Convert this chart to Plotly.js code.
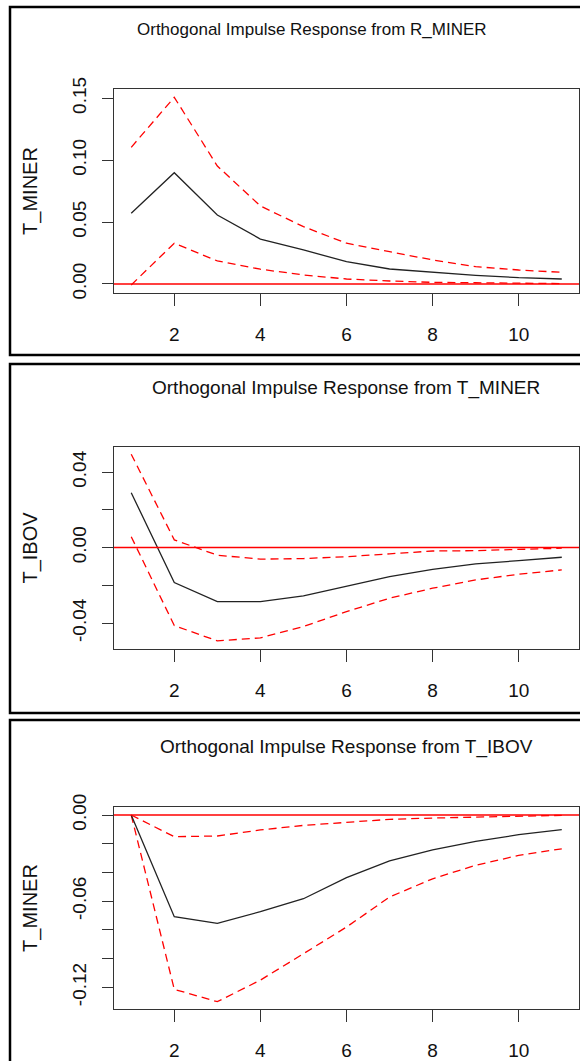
<!DOCTYPE html>
<html>
<head>
<meta charset="utf-8">
<script src="https://cdn.plot.ly/plotly-3.0.1.min.js"></script>
<style>
html,body{margin:0;padding:0;background:#fff;overflow:hidden;}
#chart{width:580px;height:1061px;}
</style>
</head>
<body>
<div id="chart"></div>
<script>
// ---- data ----
const steps = [1,2,3,4,5,6,7,8,9,10,11];

// Panel 1: response of T_MINER to R_MINER
const p1_title = "Orthogonal Impulse Response from R_MINER";
const p1_ylabel = "T_MINER";
const p1_irf   = [0.0571,0.0899,0.0557,0.0363,0.0275,0.0180,0.0121,0.0094,0.0070,0.0051,0.0040];
const p1_upper = [0.1104,0.1508,0.0953,0.0630,0.0463,0.0329,0.0261,0.0194,0.0140,0.0113,0.0094];
const p1_lower = [-0.0008,0.0329,0.0186,0.0119,0.0073,0.0040,0.0024,0.0013,0.0010,0.0005,0.0003];
const p1_tickvals = [0,0.05,0.10,0.15];
const p1_ticktext = ["0.00","0.05","0.10","0.15"];

// Panel 2: response of T_IBOV to T_MINER
const p2_title = "Orthogonal Impulse Response from T_MINER";
const p2_ylabel = "T_IBOV";
const p2_irf   = [0.0291,-0.0185,-0.0286,-0.0286,-0.0256,-0.0206,-0.0154,-0.0115,-0.0086,-0.0069,-0.0051];
const p2_upper = [0.0495,0.0041,-0.0040,-0.0061,-0.0058,-0.0048,-0.0033,-0.0018,-0.0016,-0.0009,-0.0003];
const p2_lower = [0.0058,-0.0413,-0.0494,-0.0478,-0.0418,-0.0339,-0.0268,-0.0215,-0.0171,-0.0141,-0.0118];
const p2_tickvals = [-0.04,-0.02,0,0.02,0.04];
const p2_ticktext = ["-0.04","","0.00","","0.04"];

// Panel 3: response of T_MINER to T_IBOV
const p3_title = "Orthogonal Impulse Response from T_IBOV";
const p3_ylabel = "T_MINER";
const p3_irf   = [0,-0.0708,-0.0754,-0.0673,-0.0583,-0.0436,-0.0320,-0.0242,-0.0183,-0.0137,-0.0102];
const p3_upper = [0,-0.0151,-0.0146,-0.0104,-0.0072,-0.0049,-0.0030,-0.0021,-0.0014,-0.0007,-0.0002];
const p3_lower = [0,-0.1214,-0.1300,-0.1150,-0.0966,-0.0780,-0.0571,-0.0444,-0.0350,-0.0281,-0.0235];
const p3_tickvals = [-0.12,-0.10,-0.08,-0.06,-0.04,-0.02,0];
const p3_ticktext = ["-0.12","","","-0.06","","","0.00"];

const xticks = [2,4,6,8,10];

// ---- layout helpers ----
const W = 580, H = 1061;
const fx = v => v / W;
const fy = v => 1 - v / H;
const FONT = "Liberation Sans, Arial, sans-serif";

const panels = [
  {title:p1_title, ylab:p1_ylabel, irf:p1_irf, up:p1_upper, lo:p1_lower, tv:p1_tickvals, tt:p1_ticktext,
   yr:[-0.0073,0.1575], top:89, bot:293, titleX:312, titleY:30, titleSize:17, box:[7,355]},
  {title:p2_title, ylab:p2_ylabel, irf:p2_irf, up:p2_upper, lo:p2_lower, tv:p2_tickvals, tt:p2_ticktext,
   yr:[-0.0537,0.0533], top:447, bot:649, titleX:346, titleY:388, titleSize:19, box:[364,713]},
  {title:p3_title, ylab:p3_ylabel, irf:p3_irf, up:p3_upper, lo:p3_lower, tv:p3_tickvals, tt:p3_ticktext,
   yr:[-0.1351,0.0056], top:807, bot:1009, titleX:346, titleY:747, titleSize:19, box:[720,1075]}
];

const traces = [];
const layout = {
  width: W, height: H,
  margin: {l:0, r:0, t:0, b:0},
  paper_bgcolor: "#fff", plot_bgcolor: "#fff",
  showlegend: false,
  font: {family: FONT, color: "#111"},
  shapes: [], annotations: []
};

panels.forEach((p, i) => {
  const n = i + 1;
  const xa = n === 1 ? "x" : "x" + n;
  const ya = n === 1 ? "y" : "y" + n;
  const xk = n === 1 ? "xaxis" : "xaxis" + n;
  const yk = n === 1 ? "yaxis" : "yaxis" + n;

  traces.push({x: steps, y: p.up, xaxis: xa, yaxis: ya, mode: "lines",
    line: {color: "#ff0000", width: 1.3, dash: "8px,5px"}, hoverinfo: "skip"});
  traces.push({x: steps, y: p.lo, xaxis: xa, yaxis: ya, mode: "lines",
    line: {color: "#ff0000", width: 1.3, dash: "8px,5px"}, hoverinfo: "skip"});
  traces.push({x: steps, y: p.irf, xaxis: xa, yaxis: ya, mode: "lines",
    line: {color: "#222", width: 1.3}, hoverinfo: "skip"});

  layout[xk] = {
    domain: [fx(114), fx(579)], anchor: ya, range: [0.6, 11.4],
    tickvals: xticks, ticktext: xticks.map(String),
    ticks: "outside", ticklen: 12, tickwidth: 1, tickcolor: "#333",
    showline: true, mirror: true, linecolor: "#333", linewidth: 1,
    showgrid: false, zeroline: false,
    tickfont: {size: 19, family: FONT, color: "#111"},
    ticklabelstandoff: 12
  };
  layout[yk] = {
    domain: [fy(p.bot), fy(p.top)], anchor: xa, range: p.yr,
    tickvals: p.tv, ticktext: p.tt, tickangle: -90,
    ticks: "outside", ticklen: 11, tickwidth: 1, tickcolor: "#333",
    showline: true, mirror: true, linecolor: "#333", linewidth: 1,
    showgrid: false, zeroline: false,
    tickfont: {size: 19, family: FONT, color: "#111"},
    ticklabelstandoff: 8,
    title: {text: p.ylab, font: {size: 20, family: FONT, color: "#111"}, standoff: 26}
  };

  // zero reference line
  layout.shapes.push({type: "line", xref: xa + " domain", yref: ya,
    x0: 0, x1: 1, y0: 0, y1: 0, line: {color: "#ff0000", width: 1.5}});

  // outer panel frame
  layout.shapes.push({type: "rect", xref: "paper", yref: "paper",
    x0: fx(10), x1: fx(600), y0: fy(p.box[1]), y1: fy(p.box[0]),
    line: {color: "#000", width: 2.5}, layer: "below"});

  layout.annotations.push({text: p.title, xref: "paper", yref: "paper",
    x: fx(p.titleX), y: fy(p.titleY), xanchor: "center", yanchor: "middle",
    showarrow: false, font: {size: p.titleSize, family: FONT, color: "#111"}});
});

Plotly.newPlot("chart", traces, layout, {staticPlot: true, responsive: false});
</script>
</body>
</html>
